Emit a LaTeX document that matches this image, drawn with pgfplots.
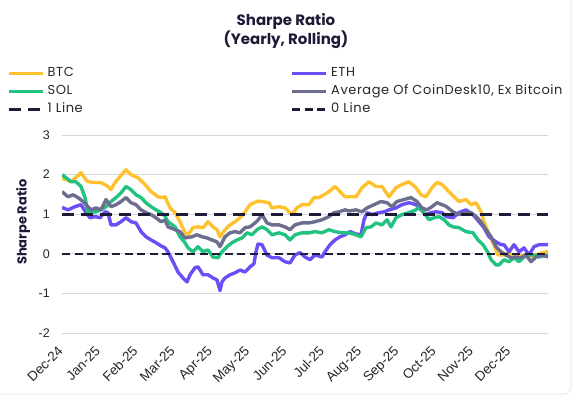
\documentclass[border=0pt]{standalone}
\usepackage{pgfplots}
\pgfplotsset{compat=1.18}
\usepackage{fontspec}
\setmainfont{Poppins}
\newfontfamily\legfont[LetterSpace=4.5]{Poppins}
\newfontfamily\tickfont{Liberation Sans}
\definecolor{btc}{HTML}{FFC22E}
\definecolor{eth}{HTML}{6C4DF6}
\definecolor{sol}{HTML}{22C381}
\definecolor{avg}{HTML}{6B6E8E}
\definecolor{navy}{HTML}{1C1B38}
\definecolor{gridc}{HTML}{D6D6DE}
\begin{document}
\begin{tikzpicture}
\useasboundingbox (0pt,0pt) rectangle (574pt,-396pt);
\draw[gray!22, line width=0.8pt, rounded corners=7pt] (-8pt,8pt) rectangle (571pt,-394pt);
\node[font=\bfseries\fontsize{15}{17}\selectfont, text=navy] at (286pt,-21pt) {Sharpe Ratio};
\node[font=\bfseries\fontsize{15}{17}\selectfont, text=navy] at (286pt,-40pt) {(Yearly, Rolling)};
\begin{axis}[
  at={(62pt,-333pt)}, anchor=south west,
  scale only axis, width=486pt, height=198pt,
  xmin=62, xmax=548, ymin=-2, ymax=3,
  axis line style={draw=none}, major tick length=0pt,
  ytick={-2,-1,0,1,2,3}, yticklabels={-2,-1,0,1,2,3},
  xtick={64,101.3,138.6,175.9,213.2,250.5,287.8,325.1,362.4,399.7,437,474.3,511.6},
  xticklabels={Dec-24,Jan-25,Feb-25,Mar-25,Apr-25,May-25,Jun-25,Jul-25,Aug-25,Sep-25,Oct-25,Nov-25,Dec-25},
  ymajorgrids, grid style={gridc, line width=1pt},
  yticklabel style={font=\tickfont\fontsize{12.5}{14}\selectfont, text=black!85, inner xsep=0pt, xshift=-12pt},
  xticklabel style={font=\tickfont\fontsize{13.5}{15}\selectfont, text=black!85, xshift=-7pt, yshift=-12pt, rotate=45, anchor=north east, inner sep=0pt},
  ylabel={\bfseries Sharpe Ratio},
  ylabel style={at={(axis description cs:-0.080,0.56)}, anchor=center, font=\fontsize{13}{15}\selectfont, text=navy},
  legend columns=2,
  legend cell align=left,
  legend style={at={(axis description cs:-0.1193,1.3535)}, anchor=north west, draw=none, fill=none,
    font=\legfont\fontsize{13}{15}\selectfont, text=black!85,
    nodes={inner sep=0pt, text height=9pt, text depth=3pt},
    row sep=6pt,
    /tikz/every odd column/.append style={column sep=3pt},
    /tikz/every even column/.append style={column sep=208pt}},
  legend image code/.code={\draw[#1] (0pt,0pt) -- (34pt,0pt);},
  every axis plot/.append style={line join=round},
]
% BTC
\addplot[btc, line width=3.4pt] table {
62 1.90
66 1.88
71 1.82
77 1.95
81 2.05
85 1.90
88 1.82
95 1.80
101 1.80
108 1.70
111 1.62
115 1.80
120 1.95
126 2.12
131 2.00
138 1.92
145 1.75
151 1.57
155 1.50
158 1.44
162 1.42
165 1.44
170 1.16
175 1.04
180 0.81
185 0.53
188 0.48
193 0.66
198 0.68
203 0.66
208 0.81
213 0.68
217 0.61
220 0.43
225 0.61
230 0.73
235 0.81
240 0.91
245 1.06
250 1.24
255 1.30
258 1.33
262 1.32
269 1.29
272 1.16
279 1.19
285 1.16
292 0.99
297 1.16
302 1.24
309 1.24
314 1.42
319 1.42
324 1.49
329 1.57
335 1.70
340 1.57
345 1.44
352 1.44
356 1.44
362 1.67
369 1.82
376 1.70
382 1.70
389 1.44
396 1.67
402 1.75
409 1.82
416 1.67
421 1.49
426 1.44
432 1.67
437 1.80
442 1.75
447 1.62
454 1.44
459 1.32
466 1.37
471 1.24
476 1.29
481 1.06
484 0.81
488 0.56
493 0.28
498 -0.03
504 -0.03
509 0.03
516 -0.10
523 -0.03
529 -0.08
536 -0.03
543 0.03
548 0.06
};
\addlegendentry{BTC}
% ETH
\addplot[eth, line width=3.4pt] table {
62 1.17
68 1.11
75 1.19
81 1.24
86 1.04
90 0.91
95 0.94
100 0.91
105 1.06
108 1.04
111 0.73
116 0.73
121 0.81
126 0.91
131 0.81
136 0.78
141 0.56
146 0.43
151 0.35
156 0.28
161 0.20
165 0.15
168 0.05
173 -0.20
178 -0.46
183 -0.61
187 -0.71
190 -0.53
195 -0.35
198 -0.33
203 -0.53
208 -0.53
213 -0.61
217 -0.66
220 -0.93
222 -0.71
225 -0.61
230 -0.53
235 -0.48
240 -0.41
245 -0.46
250 -0.33
254 -0.25
256 0.05
258 0.25
262 0.23
267 -0.03
272 -0.10
279 -0.10
285 -0.20
290 -0.23
295 -0.03
300 0.03
305 -0.08
310 -0.15
315 -0.03
322 -0.08
325 0.05
330 0.23
335 0.35
340 0.43
345 0.48
350 0.56
356 0.50
361 0.48
364 0.86
367 1.04
372 0.99
379 1.04
384 1.06
389 1.11
396 1.16
402 1.24
409 1.29
416 1.24
421 1.11
426 0.99
431 1.04
436 1.06
442 1.04
446 0.94
453 0.91
459 1.04
466 1.11
473 0.99
479 0.81
484 0.66
489 0.43
496 0.30
501 0.23
504 0.23
509 0.05
514 0.23
519 0.05
524 0.15
529 -0.03
534 0.18
539 0.23
548 0.23
};
\addlegendentry{ETH}
% SOL
\addplot[sol, line width=3.4pt] table {
62 2.00
66 1.92
71 1.82
76 1.82
81 1.70
85 1.42
88 1.04
91 1.06
96 1.06
101 1.11
106 1.19
111 1.32
116 1.42
121 1.54
126 1.70
131 1.62
136 1.49
141 1.42
146 1.29
151 1.19
156 1.11
161 1.04
165 0.95
168 0.81
175 0.68
180 0.43
185 0.28
188 0.15
193 0.05
198 0.18
203 0.05
208 0.10
213 -0.08
218 -0.10
222 0.05
227 0.18
232 0.28
237 0.35
242 0.40
247 0.53
252 0.48
257 0.61
262 0.68
267 0.61
272 0.48
279 0.53
285 0.48
290 0.35
295 0.48
302 0.53
309 0.53
315 0.56
322 0.53
329 0.61
335 0.56
342 0.53
349 0.53
356 0.48
361 0.43
366 0.66
371 0.68
376 0.78
382 0.73
387 0.86
391 0.68
396 0.91
402 0.99
409 1.04
416 1.11
419 1.19
424 1.04
429 0.86
434 0.91
439 0.94
444 0.86
449 0.73
453 0.68
459 0.66
466 0.56
473 0.53
478 0.35
483 0.23
488 0.03
491 -0.15
496 -0.28
499 -0.28
504 -0.15
509 -0.20
514 -0.10
519 -0.20
524 -0.08
529 -0.03
534 -0.03
539 -0.08
548 -0.03
};
\addlegendentry{SOL}
% Average of CoinDesk10 ex Bitcoin
\addplot[avg, line width=3.4pt] table {
62 1.57
68 1.44
73 1.49
78 1.42
83 1.32
88 1.19
91 1.11
96 1.16
101 1.11
106 1.37
111 1.19
116 1.24
121 1.32
126 1.42
131 1.29
136 1.24
141 1.11
146 1.04
151 0.99
156 0.91
161 0.81
165 0.85
168 0.68
175 0.61
180 0.56
185 0.40
192 0.43
197 0.48
202 0.43
207 0.40
212 0.35
217 0.30
220 0.18
225 0.43
230 0.53
235 0.56
240 0.53
245 0.66
250 0.68
255 0.78
258 0.85
262 0.99
267 0.78
272 0.73
279 0.73
285 0.68
290 0.61
295 0.73
302 0.78
309 0.78
315 0.81
322 0.86
329 0.94
334 1.04
339 1.06
345 1.11
349 1.08
356 1.11
362 1.06
367 1.16
374 1.24
381 1.32
387 1.29
392 1.19
397 1.32
404 1.37
411 1.42
417 1.32
422 1.16
427 1.11
432 1.19
437 1.29
442 1.24
446 1.20
453 1.06
459 0.99
466 1.04
471 1.04
476 0.94
481 0.81
486 0.61
491 0.43
496 0.18
501 0.05
506 -0.03
511 -0.10
516 -0.08
521 -0.10
526 -0.03
531 -0.20
536 -0.08
541 -0.03
548 -0.08
};
\addlegendentry{Average Of CoinDesk10, Ex Bitcoin}
\addplot[navy, line width=2.6pt, dash pattern=on 12pt off 7pt] table {
62 1
548 1
};
\addlegendentry{1 Line}
\addplot[navy, line width=2.6pt, dash pattern=on 8pt off 4.5pt] table {
62 0
548 0
};
\addlegendentry{0 Line}
\end{axis}
\end{tikzpicture}
\end{document}
